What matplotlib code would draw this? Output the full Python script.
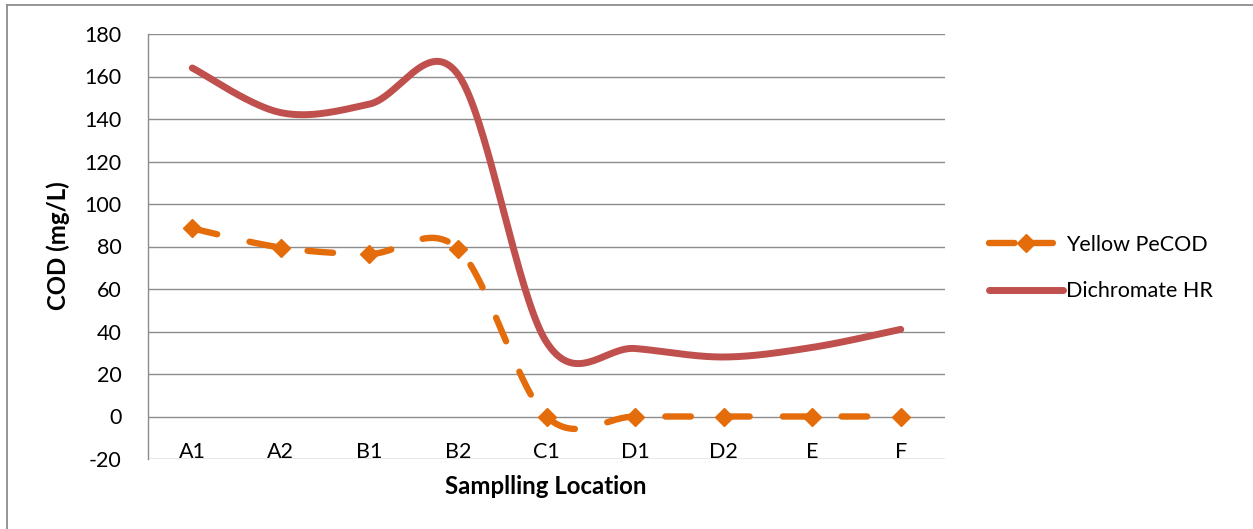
import numpy as np
import matplotlib
matplotlib.use("Agg")
import matplotlib.pyplot as plt
from matplotlib.lines import Line2D

# Data
locations = ["A1", "A2", "B1", "B2", "C1", "D1", "D2", "E", "F"]
yellow_pecod = [88.5, 79.5, 76.5, 79, 0, 0, 0, 0, 0]
dichromate_hr = [164, 143, 147, 161, 35, 32, 28, 32.5, 41]
y_ticks = [-20, 0, 20, 40, 60, 80, 100, 120, 140, 160, 180]

ORANGE = "#E46C0A"
RED = "#C0504D"
GRID = "#8C8C8C"

plt.rcParams["font.family"] = ["Lato", "DejaVu Sans"]
FS = 15.5
FS_TITLE = 17.3


def smooth(xv, yv, n=60):
    """Spreadsheet-style smoothed line: cubic Bezier segments whose
    control points follow the neighbouring points (Catmull-Rom)."""
    p = np.column_stack([xv, yv]).astype(float)
    pts = [p[0]]
    m = len(p)
    for i in range(m - 1):
        p0 = p[i - 1] if i > 0 else p[i]
        p1, p2 = p[i], p[i + 1]
        p3 = p[i + 2] if i + 2 < m else p[i + 1]
        c1 = p1 + (p2 - p0) / 6.0
        c2 = p2 - (p3 - p1) / 6.0
        t = np.linspace(0, 1, n)[1:, None]
        seg = ((1 - t) ** 3) * p1 + 3 * ((1 - t) ** 2) * t * c1 \
            + 3 * (1 - t) * t ** 2 * c2 + t ** 3 * p2
        pts.extend(seg)
    pts = np.array(pts)
    return pts[:, 0], pts[:, 1]


fig = plt.figure(figsize=(12.53, 5.29), dpi=100)
ax = fig.add_axes([148 / 1253, 1 - 459 / 529, (945 - 148) / 1253, (459 - 34) / 529])

xpos = np.arange(len(locations))

# Dichromate HR (solid smoothed line)
sx, sy = smooth(xpos, dichromate_hr)
ax.plot(sx, sy, color=RED, lw=5.0, solid_capstyle="round", zorder=3)

# Yellow PeCOD (dashed smoothed line with diamond markers)
yx, yy = smooth(xpos, yellow_pecod)
ax.plot(yx, yy, color=ORANGE, lw=4.6, dashes=(4.0, 5.2),
        dash_capstyle="round", zorder=4)
ax.plot(xpos, yellow_pecod, linestyle="none", marker="D", markersize=9,
        color=ORANGE, markeredgecolor=ORANGE, zorder=5)

ax.set_xlim(-0.5, len(locations) - 0.5)
ax.set_ylim(-20, 180)
ax.set_yticks(y_ticks)
ax.set_yticklabels([str(v) for v in y_ticks], fontsize=FS)
ax.set_xticks([])
ax.tick_params(axis="y", length=0, pad=19)
ax.grid(axis="y", color=GRID, lw=1.0)
ax.set_axisbelow(True)
for side in ("top", "right", "bottom"):
    ax.spines[side].set_visible(False)
ax.spines["left"].set_color(GRID)
ax.spines["left"].set_linewidth(1.0)

# Category labels sit inside the plot area just above the lowest gridline
for xi, lab in zip(xpos, locations):
    ax.text(xi, -19.6, lab, ha="center", va="baseline", fontsize=FS)

fig.text(546 / 1253, 1 - 486 / 529, "Samplling Location", ha="center",
         va="center", fontsize=FS_TITLE, fontweight="bold")
fig.text(58 / 1253, 1 - 246 / 529, "COD (mg/L)", ha="center", va="center",
         rotation=90, fontsize=FS_TITLE, fontweight="bold")

handles = [
    Line2D([], [], color=ORANGE, lw=4.6, dashes=(4.0, 2.0),
           dash_capstyle="round", marker="D", markersize=9),
    Line2D([], [], color=RED, lw=5.0, solid_capstyle="round"),
]
fig.legend(handles, ["Yellow PeCOD", "Dichromate HR"], loc="center left",
           bbox_to_anchor=(970 / 1253, 1 - 268 / 529), frameon=False,
           fontsize=FS, handlelength=3.4, handletextpad=0.15,
           labelspacing=1.22, numpoints=1)

# Outer chart frame (top and left edges)
fig.add_artist(Line2D([7 / 1253, 7 / 1253], [0, 1 - 5 / 529],
                      transform=fig.transFigure, color=GRID, lw=1.3))
fig.add_artist(Line2D([7 / 1253, 1], [1 - 5 / 529, 1 - 5 / 529],
                      transform=fig.transFigure, color=GRID, lw=1.3))

fig.savefig("out.png", dpi=100, facecolor="white")
